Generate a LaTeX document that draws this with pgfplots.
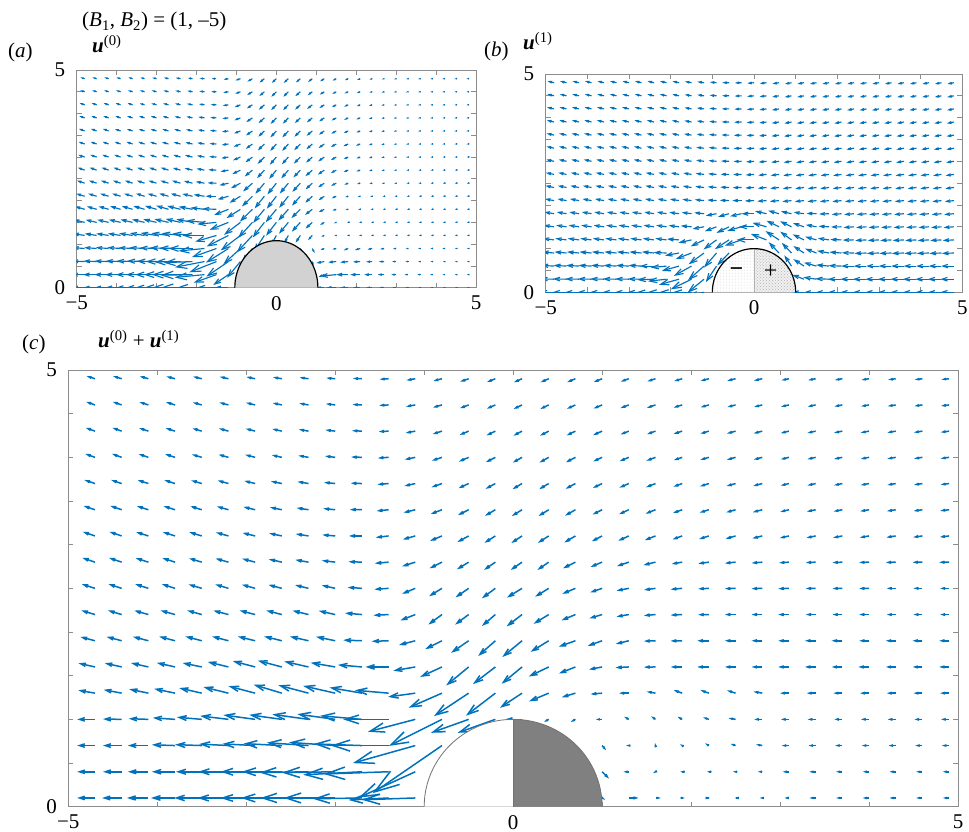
\documentclass[border=0pt]{standalone}
\usepackage{fontspec}
\setmainfont{Liberation Serif}
\usepackage{pgfplots}
\pgfplotsset{compat=1.18}
\usepackage{pgfplotstable}
\usetikzlibrary{arrows.meta,patterns}
\definecolor{mblue}{RGB}{0,114,189}
\definecolor{axgray}{RGB}{140,140,140}

% x y L(length, data units) a(direction, degrees; 180 = pointing left)
\pgfplotstableread{
x y L a
-4.7 4.9 .1 162
-4.4 4.9 .1 163
-4.1 4.9 .1 164
-3.8 4.9 .1 165
-3.5 4.9 .1 166
-3.2 4.9 .1 167
-2.9 4.9 .1 168
-2.6 4.9 .1 170
-2.3 4.9 .1 172
-2 4.9 .1 175
-1.7 4.9 .1 178
-1.4 4.9 .1 184
-1.1 4.9 .1 190
-.8 4.9 .1 195
-.5 4.9 .1 199
-.2 4.9 .1 202
.1 4.9 .1 204
.4 4.9 .1 204
.7 4.9 .1 203
1 4.9 .1 202
1.3 4.9 .095 200
1.6 4.9 .095 198
1.9 4.9 .095 197
2.2 4.9 .095 195
2.5 4.9 .095 194
2.8 4.9 .095 193
3.1 4.9 .085 192
3.4 4.9 .085 191
3.7 4.9 .085 190
4 4.9 .085 189
4.3 4.9 .085 188
4.6 4.9 .085 187
4.9 4.9 .085 186
-4.7 4.6 .105 160
-4.4 4.6 .105 161
-4.1 4.6 .105 162
-3.8 4.6 .105 163
-3.5 4.6 .105 164
-3.2 4.6 .105 165
-2.9 4.6 .105 166
-2.6 4.6 .105 168
-2.3 4.6 .105 170
-2 4.6 .105 173
-1.7 4.6 .105 177
-1.4 4.6 .105 183
-1.1 4.6 .105 190
-.8 4.6 .105 196
-.5 4.6 .105 201
-.2 4.6 .105 204
.1 4.6 .105 206
.4 4.6 .105 206
.7 4.6 .105 205
1 4.6 .105 203
1.3 4.6 .1 201
1.6 4.6 .1 199
1.9 4.6 .1 197
2.2 4.6 .095 196
2.5 4.6 .095 195
2.8 4.6 .095 194
3.1 4.6 .09 193
3.4 4.6 .09 192
3.7 4.6 .09 191
4 4.6 .09 190
4.3 4.6 .09 189
4.6 4.6 .09 188
4.9 4.6 .09 187
-4.7 4.3 .11 160
-4.4 4.3 .11 160
-4.1 4.3 .11 161
-3.8 4.3 .11 162
-3.5 4.3 .11 163
-3.2 4.3 .11 164
-2.9 4.3 .11 165
-2.6 4.3 .11 167
-2.3 4.3 .11 170
-2 4.3 .11 173
-1.7 4.3 .11 177
-1.4 4.3 .11 183
-1.1 4.3 .11 191
-.8 4.3 .11 198
-.5 4.3 .11 203
-.2 4.3 .11 206
.1 4.3 .11 208
.4 4.3 .11 208
.7 4.3 .11 206
1 4.3 .11 204
1.3 4.3 .1 202
1.6 4.3 .1 200
1.9 4.3 .1 198
2.2 4.3 .1 197
2.5 4.3 .1 196
2.8 4.3 .1 195
3.1 4.3 .095 194
3.4 4.3 .095 193
3.7 4.3 .095 192
4 4.3 .095 191
4.3 4.3 .095 190
4.6 4.3 .095 189
4.9 4.3 .095 188
-4.7 4 .115 160
-4.4 4 .115 160
-4.1 4 .115 161
-3.8 4 .115 162
-3.5 4 .115 163
-3.2 4 .115 164
-2.9 4 .115 165
-2.6 4 .115 167
-2.3 4 .115 170
-2 4 .115 173
-1.7 4 .12 178
-1.4 4 .12 184
-1.1 4 .12 192
-.8 4 .12 199
-.5 4 .12 204
-.2 4 .12 208
.1 4 .12 210
.4 4 .12 210
.7 4 .12 208
1 4 .11 205
1.3 4 .11 203
1.6 4 .11 201
1.9 4 .1 199
2.2 4 .1 197
2.5 4 .1 196
2.8 4 .1 195
3.1 4 .095 194
3.4 4 .095 193
3.7 4 .095 192
4 4 .095 191
4.3 4 .095 190
4.6 4 .095 189
4.9 4 .095 188
-4.7 3.7 .125 161
-4.4 3.7 .125 161
-4.1 3.7 .125 162
-3.8 3.7 .125 162
-3.5 3.7 .125 163
-3.2 3.7 .125 164
-2.9 3.7 .125 166
-2.6 3.7 .125 168
-2.3 3.7 .125 170
-2 3.7 .125 174
-1.7 3.7 .125 178
-1.4 3.7 .125 185
-1.1 3.7 .125 193
-.8 3.7 .125 200
-.5 3.7 .125 205
-.2 3.7 .125 209
.1 3.7 .125 211
.4 3.7 .125 211
.7 3.7 .125 209
1 3.7 .115 206
1.3 3.7 .115 204
1.6 3.7 .115 202
1.9 3.7 .105 200
2.2 3.7 .105 198
2.5 3.7 .105 196
2.8 3.7 .105 195
3.1 3.7 .095 194
3.4 3.7 .095 193
3.7 3.7 .095 192
4 3.7 .095 191
4.3 3.7 .095 190
4.6 3.7 .095 189
4.9 3.7 .095 188
-4.7 3.4 .135 161
-4.4 3.4 .135 161
-4.1 3.4 .135 162
-3.8 3.4 .135 162
-3.5 3.4 .135 163
-3.2 3.4 .135 164
-2.9 3.4 .135 166
-2.6 3.4 .135 168
-2.3 3.4 .135 171
-2 3.4 .135 174
-1.7 3.4 .135 179
-1.4 3.4 .135 186
-1.1 3.4 .135 194
-.8 3.4 .135 201
-.5 3.4 .135 207
-.2 3.4 .135 211
.1 3.4 .135 212
.4 3.4 .135 212
.7 3.4 .135 210
1 3.4 .12 207
1.3 3.4 .12 205
1.6 3.4 .12 202
1.9 3.4 .11 200
2.2 3.4 .11 198
2.5 3.4 .11 196
2.8 3.4 .11 195
3.1 3.4 .1 194
3.4 3.4 .1 192
3.7 3.4 .1 191
4 3.4 .1 190
4.3 3.4 .1 189
4.6 3.4 .1 188
4.9 3.4 .1 187
-4.7 3.1 .145 161
-4.4 3.1 .145 161
-4.1 3.1 .145 162
-3.8 3.1 .145 162
-3.5 3.1 .145 163
-3.2 3.1 .145 164
-2.9 3.1 .145 166
-2.6 3.1 .145 168
-2.3 3.1 .145 171
-2 3.1 .145 175
-1.7 3.1 .145 180
-1.4 3.1 .145 187
-1.1 3.1 .145 196
-.8 3.1 .145 203
-.5 3.1 .145 209
-.2 3.1 .145 213
.1 3.1 .145 214
.4 3.1 .145 213
.7 3.1 .145 211
1 3.1 .13 208
1.3 3.1 .13 205
1.6 3.1 .13 202
1.9 3.1 .115 200
2.2 3.1 .115 198
2.5 3.1 .115 196
2.8 3.1 .115 194
3.1 3.1 .105 193
3.4 3.1 .105 192
3.7 3.1 .105 191
4 3.1 .105 190
4.3 3.1 .105 189
4.6 3.1 .105 188
4.9 3.1 .105 187
-4.7 2.8 .15 161
-4.4 2.8 .15 161
-4.1 2.8 .15 162
-3.8 2.8 .15 162
-3.5 2.8 .15 163
-3.2 2.8 .15 164
-2.9 2.8 .15 165
-2.6 2.8 .15 167
-2.3 2.8 .15 170
-2 2.8 .15 173
-1.7 2.8 .15 178
-1.4 2.8 .155 185
-1.1 2.8 .155 198
-.8 2.8 .155 207
-.5 2.8 .155 212
-.2 2.8 .155 215
.1 2.8 .155 215
.4 2.8 .155 215
.7 2.8 .155 207
1 2.8 .14 203
1.3 2.8 .14 199
1.6 2.8 .14 194
1.9 2.8 .12 190
2.2 2.8 .12 188
2.5 2.8 .12 186
2.8 2.8 .12 185
3.1 2.8 .11 184
3.4 2.8 .11 183
3.7 2.8 .11 183
4 2.8 .11 182
4.3 2.8 .11 182
4.6 2.8 .11 181
4.9 2.8 .11 181
-4.7 2.5 .155 162
-4.4 2.5 .155 162
-4.1 2.5 .155 162
-3.8 2.5 .155 162
-3.5 2.5 .155 163
-3.2 2.5 .155 163
-2.9 2.5 .155 164
-2.6 2.5 .155 165
-2.3 2.5 .155 166
-2 2.5 .155 167
-1.7 2.5 .16 176
-1.4 2.5 .16 184
-1.1 2.5 .16 203
-.8 2.5 .17 212
-.5 2.5 .18 215
-.2 2.5 .19 217
.1 2.5 .2 212
.4 2.5 .18 212
.7 2.5 .16 203
1 2.5 .14 199
1.3 2.5 .14 191
1.6 2.5 .13 188
1.9 2.5 .13 185
2.2 2.5 .12 183
2.5 2.5 .12 182
2.8 2.5 .12 182
3.1 2.5 .12 182
3.4 2.5 .11 181
3.7 2.5 .11 181
4 2.5 .11 181
4.3 2.5 .1 180
4.6 2.5 .1 180
4.9 2.5 .1 180
-4.7 2.2 .16 163
-4.4 2.2 .16 163
-4.1 2.2 .165 164
-3.8 2.2 .17 164
-3.5 2.2 .17 164
-3.2 2.2 .175 165
-2.9 2.2 .18 165
-2.6 2.2 .18 165
-2.3 2.2 .185 166
-2 2.2 .19 167
-1.7 2.2 .19 175
-1.4 2.2 .17 183
-1.1 2.2 .18 202
-.8 2.2 .19 217
-.5 2.2 .19 217
-.2 2.2 .2 221
.1 2.2 .22 218
.4 2.2 .2 212
.7 2.2 .17 203
1 2.2 .15 197
1.3 2.2 .14 190
1.6 2.2 .13 185
1.9 2.2 .13 183
2.2 2.2 .12 181
2.5 2.2 .12 180
2.8 2.2 .12 180
3.1 2.2 .12 180
3.4 2.2 .11 180
3.7 2.2 .11 180
4 2.2 .11 180
4.3 2.2 .1 180
4.6 2.2 .1 180
4.9 2.2 .1 180
-4.7 1.9 .17 165
-4.4 1.9 .175 165
-4.1 1.9 .18 165
-3.8 1.9 .185 165
-3.5 1.9 .19 165
-3.2 1.9 .19 165
-2.9 1.9 .2 166
-2.6 1.9 .205 166
-2.3 1.9 .215 167
-2 1.9 .22 168
-1.7 1.9 .21 178
-1.4 1.9 .19 182
-1.1 1.9 .19 195
-.8 1.9 .21 207
-.5 1.9 .24 215
-.2 1.9 .26 222
.1 1.9 .29 220
.4 1.9 .24 212
.7 1.9 .2 200
1 1.9 .17 200
1.3 1.9 .15 194
1.6 1.9 .13 182
1.9 1.9 .13 181
2.2 1.9 .13 180
2.5 1.9 .12 180
2.8 1.9 .12 180
3.1 1.9 .12 180
3.4 1.9 .12 180
3.7 1.9 .12 180
4 1.9 .11 180
4.3 1.9 .11 180
4.6 1.9 .11 180
4.9 1.9 .11 180
-4.7 1.6 .19 167
-4.4 1.6 .195 167
-4.1 1.6 .2 167
-3.8 1.6 .21 167
-3.5 1.6 .22 168
-3.2 1.6 .24 166
-2.9 1.6 .26 165
-2.6 1.6 .28 165
-2.3 1.6 .28 167
-2 1.6 .28 170
-1.7 1.6 .27 175
-1.4 1.6 .26 180
-1.1 1.6 .25 190
-.8 1.6 .27 205
-.5 1.6 .33 220
-.2 1.6 .32 218
.1 1.6 .3 220
.4 1.6 .25 206
.7 1.6 .2 202
1 1.6 .15 191
1.3 1.6 .15 183
1.6 1.6 .13 181
1.9 1.6 .13 180
2.2 1.6 .13 180
2.5 1.6 .12 180
2.8 1.6 .12 180
3.1 1.6 .12 180
3.4 1.6 .12 180
3.7 1.6 .12 180
4 1.6 .12 180
4.3 1.6 .11 180
4.6 1.6 .11 180
4.9 1.6 .11 180
-4.7 1.3 .19 170
-4.4 1.3 .205 169
-4.1 1.3 .22 168
-3.8 1.3 .24 168
-3.5 1.3 .26 167
-3.2 1.3 .29 166
-2.9 1.3 .31 165
-2.6 1.3 .33 163
-2.3 1.3 .35 165
-2 1.3 .37 167
-1.7 1.3 .37 170
-1.4 1.3 .38 175
-1.1 1.3 .31 188
-.8 1.3 .41 204
-.5 1.3 .47 214
-.2 1.3 .42 218
.1 1.3 .3 214
.4 1.3 .24 203
.7 1.3 .16 197
1 1.3 .13 185
1.3 1.3 .11 180
1.6 1.3 .1 170
1.9 1.3 .1 160
2.2 1.3 .1 160
2.5 1.3 .1 162
2.8 1.3 .1 170
3.1 1.3 .1 180
3.4 1.3 .1 180
3.7 1.3 .1 180
4 1.3 .1 180
4.3 1.3 .1 180
4.6 1.3 .1 180
4.9 1.3 .1 180
-4.7 1 .2 180
-4.4 1 .21 179
-4.1 1 .22 178
-3.8 1 .25 176
-3.5 1 .28 175
-3.2 1 .32 173
-2.9 1 .36 172
-2.6 1 .37 172
-2.3 1 .41 172
-2 1 .43 172
-1.7 1 .47 175
-1.4 1 .51 180
-1.1 1 .55 195
-.8 1 .67 207
-.5 1 .45 200
-.2 1 .45 200
.1 1 .19 180
.4 1 .06 210
.7 1 .06 210
1 1 .07 180
1.3 1 .06 150
1.6 1 .06 145
1.9 1 .06 150
2.2 1 .07 160
2.5 1 .08 170
2.8 1 .09 180
3.1 1 .09 180
3.4 1 .09 180
3.7 1 .09 180
4 1 .09 180
4.3 1 .09 180
4.6 1 .09 180
4.9 1 .09 180
-4.7 .7 .2 180
-4.4 .7 .21 180
-4.1 .7 .23 180
-3.8 .7 .26 178
-3.5 .7 .3 178
-3.2 .7 .33 177
-2.9 .7 .37 177
-2.6 .7 .43 177
-2.3 .7 .47 176
-2 .7 .52 176
-1.7 .7 .54 178
-1.4 .7 .65 180
-1.1 .7 .73 196
-.8 .7 .95 215
1 .7 .07 310
1.3 .7 .03 180
1.6 .7 .03 100
1.9 .7 .03 150
2.2 .7 .05 150
2.5 .7 .06 160
2.8 .7 .07 170
3.1 .7 .08 180
3.4 .7 .08 180
3.7 .7 .08 180
4 .7 .08 180
4.3 .7 .08 180
4.6 .7 .08 180
4.9 .7 .08 180
-4.7 .4 .2 180
-4.4 .4 .21 180
-4.1 .4 .23 180
-3.8 .4 .26 180
-3.5 .4 .29 180
-3.2 .4 .34 180
-2.9 .4 .39 180
-2.6 .4 .45 180
-2.3 .4 .55 181
-2 .4 .6 181
-1.7 .4 .66 183
-1.4 .4 .73 182
-1.1 .4 .7 205
1 .4 .11 315
1.3 .4 .06 180
1.6 .4 .03 210
1.9 .4 .02 180
2.2 .4 .02 180
2.5 .4 .03 180
2.8 .4 .05 180
3.1 .4 .07 180
3.4 .4 .07 180
3.7 .4 .07 180
4 .4 .07 180
4.3 .4 .07 180
4.6 .4 .07 180
4.9 .4 .07 180
-4.7 .1 .2 180
-4.4 .1 .22 180
-4.1 .1 .24 180
-3.8 .1 .27 180
-3.5 .1 .31 180
-3.2 .1 .35 180
-2.9 .1 .39 180
-2.6 .1 .46 180
-2.3 .1 .54 180
-2 .1 .58 180
-1.7 .1 .55 181
-1.4 .1 .45 183
-1.1 .1 .6 182
1 .1 .04 330
1.3 .1 .11 0
1.6 .1 .06 0
1.9 .1 .03 0
2.2 .1 .01 0
2.5 .1 .01 180
2.8 .1 .03 180
3.1 .1 .05 180
3.4 .1 .07 180
3.7 .1 .07 180
4 .1 .07 180
4.3 .1 .07 180
4.6 .1 .07 180
4.9 .1 .07 180
}\dataC

\pgfplotstableread{
x y L a
-4.8 4.8 .11 165
-4.5 4.8 .11 165
-4.2 4.8 .11 165
-3.9 4.8 .11 166
-3.6 4.8 .11 166
-3.3 4.8 .11 167
-3 4.8 .11 168
-2.7 4.8 .12 169
-2.4 4.8 .12 170
-2.1 4.8 .12 172
-1.8 4.8 .12 175
-1.5 4.8 .12 180
-1.2 4.8 .12 188
-.9 4.8 .13 198
-.6 4.8 .14 208
-.3 4.8 .15 216
0 4.8 .15 220
.3 4.8 .15 220
.6 4.8 .14 218
.9 4.8 .13 215
1.2 4.8 .12 210
1.5 4.8 .1 206
1.8 4.8 .09 202
2.1 4.8 .08 199
2.4 4.8 .07 196
2.7 4.8 .06 194
3 4.8 .055 192
3.3 4.8 .05 191
3.6 4.8 .05 190
3.9 4.8 .045 190
4.2 4.8 .045 190
4.5 4.8 .04 190
4.8 4.8 .04 190
-4.8 4.5 .12 164
-4.5 4.5 .12 164
-4.2 4.5 .12 164
-3.9 4.5 .12 165
-3.6 4.5 .12 165
-3.3 4.5 .12 166
-3 4.5 .125 167
-2.7 4.5 .13 168
-2.4 4.5 .13 169
-2.1 4.5 .13 171
-1.8 4.5 .13 174
-1.5 4.5 .13 179
-1.2 4.5 .13 188
-.9 4.5 .14 199
-.6 4.5 .15 210
-.3 4.5 .16 218
0 4.5 .17 222
.3 4.5 .17 222
.6 4.5 .16 219
.9 4.5 .14 215
1.2 4.5 .13 210
1.5 4.5 .11 206
1.8 4.5 .1 202
2.1 4.5 .09 199
2.4 4.5 .075 196
2.7 4.5 .065 194
3 4.5 .06 192
3.3 4.5 .055 191
3.6 4.5 .05 190
3.9 4.5 .045 190
4.2 4.5 .045 190
4.5 4.5 .04 190
4.8 4.5 .04 190
-4.8 4.2 .13 163
-4.5 4.2 .13 163
-4.2 4.2 .13 163
-3.9 4.2 .13 164
-3.6 4.2 .13 164
-3.3 4.2 .13 165
-3 4.2 .135 166
-2.7 4.2 .14 167
-2.4 4.2 .14 168
-2.1 4.2 .14 170
-1.8 4.2 .14 173
-1.5 4.2 .14 178
-1.2 4.2 .14 188
-.9 4.2 .15 200
-.6 4.2 .16 211
-.3 4.2 .18 219
0 4.2 .18 223
.3 4.2 .18 223
.6 4.2 .17 220
.9 4.2 .16 216
1.2 4.2 .14 211
1.5 4.2 .12 206
1.8 4.2 .11 202
2.1 4.2 .09 199
2.4 4.2 .08 196
2.7 4.2 .07 194
3 4.2 .06 192
3.3 4.2 .055 191
3.6 4.2 .05 190
3.9 4.2 .045 190
4.2 4.2 .045 190
4.5 4.2 .04 190
4.8 4.2 .04 190
-4.8 3.9 .14 163
-4.5 3.9 .14 163
-4.2 3.9 .14 163
-3.9 3.9 .14 163
-3.6 3.9 .14 164
-3.3 3.9 .14 164
-3 3.9 .145 165
-2.7 3.9 .15 166
-2.4 3.9 .15 167
-2.1 3.9 .155 169
-1.8 3.9 .155 172
-1.5 3.9 .15 177
-1.2 3.9 .15 187
-.9 3.9 .16 200
-.6 3.9 .18 212
-.3 3.9 .19 220
0 3.9 .2 224
.3 3.9 .19 224
.6 3.9 .18 221
.9 3.9 .17 217
1.2 3.9 .15 212
1.5 3.9 .13 207
1.8 3.9 .11 203
2.1 3.9 .1 199
2.4 3.9 .085 196
2.7 3.9 .07 194
3 3.9 .06 192
3.3 3.9 .055 191
3.6 3.9 .05 190
3.9 3.9 .045 190
4.2 3.9 .04 190
4.5 3.9 .04 190
4.8 3.9 .04 190
-4.8 3.6 .15 162
-4.5 3.6 .15 162
-4.2 3.6 .15 162
-3.9 3.6 .15 163
-3.6 3.6 .15 163
-3.3 3.6 .15 164
-3 3.6 .155 164
-2.7 3.6 .16 165
-2.4 3.6 .16 166
-2.1 3.6 .165 168
-1.8 3.6 .165 171
-1.5 3.6 .16 176
-1.2 3.6 .16 187
-.9 3.6 .17 200
-.6 3.6 .19 213
-.3 3.6 .2 221
0 3.6 .21 225
.3 3.6 .21 225
.6 3.6 .2 222
.9 3.6 .18 218
1.2 3.6 .16 213
1.5 3.6 .14 207
1.8 3.6 .12 203
2.1 3.6 .1 199
2.4 3.6 .085 196
2.7 3.6 .07 194
3 3.6 .06 192
3.3 3.6 .05 191
3.6 3.6 .05 190
3.9 3.6 .045 190
4.2 3.6 .04 190
4.5 3.6 .04 190
4.8 3.6 .04 190
-4.8 3.3 .16 162
-4.5 3.3 .16 162
-4.2 3.3 .16 162
-3.9 3.3 .16 162
-3.6 3.3 .16 163
-3.3 3.3 .165 163
-3 3.3 .17 164
-2.7 3.3 .17 165
-2.4 3.3 .175 166
-2.1 3.3 .18 168
-1.8 3.3 .18 171
-1.5 3.3 .17 176
-1.2 3.3 .17 187
-.9 3.3 .18 201
-.6 3.3 .2 214
-.3 3.3 .22 222
0 3.3 .22 226
.3 3.3 .22 226
.6 3.3 .21 223
.9 3.3 .19 219
1.2 3.3 .17 213
1.5 3.3 .15 207
1.8 3.3 .13 203
2.1 3.3 .11 199
2.4 3.3 .09 196
2.7 3.3 .07 194
3 3.3 .06 192
3.3 3.3 .05 191
3.6 3.3 .045 190
3.9 3.3 .04 190
4.2 3.3 .04 190
4.5 3.3 .035 190
4.8 3.3 .035 190
-4.8 3 .17 162
-4.5 3 .17 162
-4.2 3 .17 162
-3.9 3 .17 162
-3.6 3 .17 162
-3.3 3 .175 163
-3 3 .18 163
-2.7 3 .18 164
-2.4 3 .185 165
-2.1 3 .19 167
-1.8 3 .19 170
-1.5 3 .18 176
-1.2 3 .18 188
-.9 3 .2 202
-.6 3 .21 215
-.3 3 .23 223
0 3 .24 227
.3 3 .23 226
.6 3 .22 223
.9 3 .2 219
1.2 3 .18 213
1.5 3 .15 207
1.8 3 .12 202
2.1 3 .1 198
2.4 3 .085 195
2.7 3 .07 193
3 3 .06 191
3.3 3 .05 190
3.6 3 .045 190
3.9 3 .04 190
4.2 3 .035 190
4.5 3 .035 190
4.8 3 .03 190
-4.8 2.7 .18 162
-4.5 2.7 .185 162
-4.2 2.7 .185 162
-3.9 2.7 .185 162
-3.6 2.7 .185 162
-3.3 2.7 .19 163
-3 2.7 .19 163
-2.7 2.7 .2 164
-2.4 2.7 .2 165
-2.1 2.7 .2 167
-1.8 2.7 .2 170
-1.5 2.7 .2 177
-1.2 2.7 .2 190
-.9 2.7 .22 204
-.6 2.7 .24 217
-.3 2.7 .26 225
0 2.7 .27 228
.3 2.7 .26 227
.6 2.7 .24 224
.9 2.7 .22 219
1.2 2.7 .19 213
1.5 2.7 .15 206
1.8 2.7 .12 200
2.1 2.7 .1 196
2.4 2.7 .08 193
2.7 2.7 .065 191
3 2.7 .055 190
3.3 2.7 .045 190
3.6 2.7 .04 190
3.9 2.7 .035 190
4.2 2.7 .035 190
4.5 2.7 .03 190
4.8 2.7 .03 190
-4.8 2.4 .2 163
-4.5 2.4 .2 163
-4.2 2.4 .2 163
-3.9 2.4 .2 163
-3.6 2.4 .2 163
-3.3 2.4 .2 163
-3 2.4 .21 164
-2.7 2.4 .21 164
-2.4 2.4 .22 165
-2.1 2.4 .22 167
-1.8 2.4 .22 171
-1.5 2.4 .22 178
-1.2 2.4 .23 192
-.9 2.4 .26 206
-.6 2.4 .3 219
-.3 2.4 .33 227
0 2.4 .34 229
.3 2.4 .32 228
.6 2.4 .28 225
.9 2.4 .22 220
1.2 2.4 .18 212
1.5 2.4 .14 205
1.8 2.4 .1 198
2.1 2.4 .08 193
2.4 2.4 .07 190
2.7 2.4 .06 190
3 2.4 .05 190
3.3 2.4 .04 190
3.6 2.4 .04 190
3.9 2.4 .035 190
4.2 2.4 .03 190
4.5 2.4 .03 190
4.8 2.4 .03 190
-4.8 2.1 .22 164
-4.5 2.1 .22 164
-4.2 2.1 .22 164
-3.9 2.1 .22 164
-3.6 2.1 .22 164
-3.3 2.1 .225 164
-3 2.1 .23 165
-2.7 2.1 .24 165
-2.4 2.1 .25 166
-2.1 2.1 .26 168
-1.8 2.1 .27 172
-1.5 2.1 .27 180
-1.2 2.1 .28 195
-.9 2.1 .31 209
-.6 2.1 .35 222
-.3 2.1 .37 229
0 2.1 .37 230
.3 2.1 .35 229
.6 2.1 .3 226
.9 2.1 .23 220
1.2 2.1 .17 212
1.5 2.1 .12 203
1.8 2.1 .08 195
2.1 2.1 .06 190
2.4 2.1 .05 190
2.7 2.1 .04 190
3 2.1 .04 190
3.3 2.1 .035 190
3.6 2.1 .03 190
3.9 2.1 .03 190
4.2 2.1 .03 190
4.5 2.1 .03 190
4.8 2.1 .03 190
-4.8 1.8 .25 165
-4.5 1.8 .25 165
-4.2 1.8 .26 165
-3.9 1.8 .27 165
-3.6 1.8 .28 165
-3.3 1.8 .29 165
-3 1.8 .3 165
-2.7 1.8 .32 165
-2.4 1.8 .34 167
-2.1 1.8 .35 170
-1.8 1.8 .35 174
-1.5 1.8 .35 178
-1.2 1.8 .38 200
-.9 1.8 .4 210
-.6 1.8 .42 222
-.3 1.8 .42 228
0 1.8 .4 228
.3 1.8 .36 226
.6 1.8 .3 222
.9 1.8 .22 215
1.2 1.8 .15 205
1.5 1.8 .1 195
1.8 1.8 .07 190
2.1 1.8 .05 185
2.4 1.8 .04 185
2.7 1.8 .035 185
3 1.8 .03 185
3.3 1.8 .03 185
3.6 1.8 .03 185
3.9 1.8 .03 185
4.2 1.8 .03 185
4.5 1.8 .03 185
4.8 1.8 .03 185
-4.8 1.5 .28 168
-4.5 1.5 .28 168
-4.2 1.5 .29 168
-3.9 1.5 .3 168
-3.6 1.5 .31 168
-3.3 1.5 .32 168
-3 1.5 .34 168
-2.7 1.5 .36 168
-2.4 1.5 .38 168
-2.1 1.5 .41 170
-1.8 1.5 .45 175
-1.5 1.5 .48 185
-1.2 1.5 .5 200
-.9 1.5 .5 215
-.6 1.5 .5 225
-.3 1.5 .45 230
0 1.5 .4 230
.3 1.5 .35 228
.6 1.5 .3 225
.9 1.5 .22 220
1.2 1.5 .12 210
1.5 1.5 .06 200
1.8 1.5 .03 190
2.1 1.5 .03 185
2.4 1.5 .03 185
2.7 1.5 .03 185
3 1.5 .03 185
3.3 1.5 .03 185
3.6 1.5 .03 185
3.9 1.5 .03 185
4.2 1.5 .03 185
4.5 1.5 .03 185
4.8 1.5 .03 185
-4.8 1.2 .3 172
-4.5 1.2 .3 172
-4.2 1.2 .31 172
-3.9 1.2 .32 172
-3.6 1.2 .34 172
-3.3 1.2 .37 172
-3 1.2 .4 172
-2.7 1.2 .43 173
-2.4 1.2 .47 174
-2.1 1.2 .5 175
-1.8 1.2 .55 180
-1.5 1.2 .55 195
-1.2 1.2 .6 205
-.9 1.2 .6 215
-.6 1.2 .55 225
-.3 1.2 .45 235
0 1.2 .25 240
.3 1.2 .2 240
.6 1.2 .2 235
.9 1.2 .15 225
1.2 1.2 .08 200
1.5 1.2 .05 180
1.8 1.2 .03 185
2.1 1.2 .03 185
2.4 1.2 .03 185
2.7 1.2 .03 185
3 1.2 .03 185
3.3 1.2 .03 185
3.6 1.2 .03 185
3.9 1.2 .03 185
4.2 1.2 .03 185
4.5 1.2 .03 185
4.8 1.2 .03 185
-4.8 .9 .3 176
-4.5 .9 .31 176
-4.2 .9 .32 176
-3.9 .9 .33 176
-3.6 .9 .35 177
-3.3 .9 .38 177
-3 .9 .42 178
-2.7 .9 .47 178
-2.4 .9 .53 179
-2.1 .9 .6 180
-1.8 .9 .65 185
-1.5 .9 .65 198
-1.2 .9 .65 210
-.9 .9 .55 220
-.6 .9 .4 230
.6 .9 .1 300
.9 .9 .12 300
1.2 .9 .1 200
1.5 .9 .1 190
1.8 .9 .12 200
2.1 .9 .14 195
2.4 .9 .12 190
2.7 .9 .1 188
3 .9 .08 185
3.3 .9 .06 185
3.6 .9 .05 182
3.9 .9 .04 182
4.2 .9 .04 180
4.5 .9 .03 180
4.8 .9 .03 180
-4.8 .6 .32 178
-4.5 .6 .33 178
-4.2 .6 .35 178
-3.9 .6 .37 178
-3.6 .6 .4 178
-3.3 .6 .44 178
-3 .6 .5 179
-2.7 .6 .57 180
-2.4 .6 .65 181
-2.1 .6 .72 182
-1.8 .6 .75 190
-1.5 .6 .72 200
-1.2 .6 .65 212
-.9 .6 .5 228
.9 .6 .1 290
1.2 .6 .2 190
1.5 .6 .2 185
1.8 .6 .2 185
2.1 .6 .18 183
2.4 .6 .15 182
2.7 .6 .13 181
3 .6 .1 180
3.3 .6 .07 180
3.6 .6 .05 180
3.9 .6 .04 180
4.2 .6 .03 180
4.5 .6 .03 180
4.8 .6 .03 180
-4.8 .3 .33 180
-4.5 .3 .34 180
-4.2 .3 .36 180
-3.9 .3 .39 180
-3.6 .3 .42 180
-3.3 .3 .47 180
-3 .3 .54 180
-2.7 .3 .62 180
-2.4 .3 .72 180
-2.1 .3 .8 181
-1.8 .3 .75 185
-1.5 .3 .6 198
-1.2 .3 .45 212
1.2 .3 .15 200
1.5 .3 .4 185
1.8 .3 .3 180
2.1 .3 .25 180
2.4 .3 .2 180
2.7 .3 .16 180
3 .3 .12 180
3.3 .3 .09 180
3.6 .3 .07 180
3.9 .3 .05 180
4.2 .3 .04 180
4.5 .3 .03 180
4.8 .3 .03 180
-4.8 0 .33 180
-4.5 0 .34 180
-4.2 0 .36 180
-3.9 0 .39 180
-3.6 0 .42 180
-3.3 0 .47 180
-3 0 .54 180
-2.7 0 .62 180
-2.4 0 .72 180
-2.1 0 .8 180
-1.8 0 .7 180
-1.5 0 .5 180
-1.2 0 .35 180
1.2 0 .2 180
1.5 0 .25 180
1.8 0 .2 180
2.1 0 .18 180
2.4 0 .15 180
2.7 0 .12 180
3 0 .09 180
3.3 0 .07 180
3.6 0 .05 180
3.9 0 .04 180
4.2 0 .03 180
4.5 0 .03 180
4.8 0 .03 180
}\dataA

\pgfplotstableread{
x y L a
-4.8 4.8 .16 167
-4.5 4.8 .16 167
-4.2 4.8 .16 167
-3.9 4.8 .16 167
-3.6 4.8 .16 167
-3.3 4.8 .16 167
-3 4.8 .16 167
-2.7 4.8 .16 167
-2.4 4.8 .16 167
-2.1 4.8 .16 167
-1.8 4.8 .16 168
-1.5 4.8 .16 170
-1.2 4.8 .16 172
-.9 4.8 .16 175
-.6 4.8 .16 179
-.3 4.8 .16 182
0 4.8 .16 185
.3 4.8 .16 187
.6 4.8 .16 189
.9 4.8 .16 190
1.2 4.8 .16 190
1.5 4.8 .16 190
1.8 4.8 .16 190
2.1 4.8 .16 190
2.4 4.8 .16 190
2.7 4.8 .16 190
3 4.8 .16 190
3.3 4.8 .16 190
3.6 4.8 .16 190
3.9 4.8 .16 190
4.2 4.8 .16 190
4.5 4.8 .16 190
4.8 4.8 .16 190
-4.8 4.5 .165 167
-4.5 4.5 .165 167
-4.2 4.5 .165 167
-3.9 4.5 .165 167
-3.6 4.5 .165 167
-3.3 4.5 .165 167
-3 4.5 .165 167
-2.7 4.5 .165 167
-2.4 4.5 .165 167
-2.1 4.5 .165 167
-1.8 4.5 .165 168
-1.5 4.5 .165 170
-1.2 4.5 .165 172
-.9 4.5 .165 175
-.6 4.5 .165 179
-.3 4.5 .165 182
0 4.5 .165 185
.3 4.5 .165 187
.6 4.5 .165 189
.9 4.5 .165 190
1.2 4.5 .165 190
1.5 4.5 .165 190
1.8 4.5 .165 190
2.1 4.5 .165 190
2.4 4.5 .165 190
2.7 4.5 .165 190
3 4.5 .165 190
3.3 4.5 .165 190
3.6 4.5 .165 190
3.9 4.5 .165 190
4.2 4.5 .165 190
4.5 4.5 .165 190
4.8 4.5 .165 190
-4.8 4.2 .17 167
-4.5 4.2 .17 167
-4.2 4.2 .17 167
-3.9 4.2 .17 167
-3.6 4.2 .17 167
-3.3 4.2 .17 167
-3 4.2 .17 167
-2.7 4.2 .17 167
-2.4 4.2 .17 167
-2.1 4.2 .17 167
-1.8 4.2 .17 168
-1.5 4.2 .17 170
-1.2 4.2 .17 172
-.9 4.2 .17 175
-.6 4.2 .17 179
-.3 4.2 .17 182
0 4.2 .17 185
.3 4.2 .17 187
.6 4.2 .17 189
.9 4.2 .17 190
1.2 4.2 .17 190
1.5 4.2 .17 190
1.8 4.2 .17 190
2.1 4.2 .17 190
2.4 4.2 .17 190
2.7 4.2 .17 190
3 4.2 .17 190
3.3 4.2 .17 190
3.6 4.2 .17 190
3.9 4.2 .17 190
4.2 4.2 .17 190
4.5 4.2 .17 190
4.8 4.2 .17 190
-4.8 3.9 .175 167
-4.5 3.9 .175 167
-4.2 3.9 .175 167
-3.9 3.9 .175 167
-3.6 3.9 .175 167
-3.3 3.9 .175 167
-3 3.9 .175 167
-2.7 3.9 .175 167
-2.4 3.9 .175 167
-2.1 3.9 .175 167
-1.8 3.9 .175 168
-1.5 3.9 .175 170
-1.2 3.9 .175 172
-.9 3.9 .175 175
-.6 3.9 .175 179
-.3 3.9 .175 182
0 3.9 .175 185
.3 3.9 .175 187
.6 3.9 .175 189
.9 3.9 .175 190
1.2 3.9 .175 190
1.5 3.9 .175 190
1.8 3.9 .175 190
2.1 3.9 .175 190
2.4 3.9 .175 190
2.7 3.9 .175 190
3 3.9 .175 190
3.3 3.9 .175 190
3.6 3.9 .175 190
3.9 3.9 .175 190
4.2 3.9 .175 190
4.5 3.9 .175 190
4.8 3.9 .175 190
-4.8 3.6 .18 168
-4.5 3.6 .18 168
-4.2 3.6 .18 168
-3.9 3.6 .18 168
-3.6 3.6 .18 168
-3.3 3.6 .18 168
-3 3.6 .18 168
-2.7 3.6 .18 168
-2.4 3.6 .18 168
-2.1 3.6 .18 168
-1.8 3.6 .18 169
-1.5 3.6 .18 171
-1.2 3.6 .18 173
-.9 3.6 .18 175
-.6 3.6 .18 179
-.3 3.6 .18 182
0 3.6 .18 184
.3 3.6 .18 186
.6 3.6 .18 188
.9 3.6 .18 189
1.2 3.6 .18 189
1.5 3.6 .18 189
1.8 3.6 .18 189
2.1 3.6 .18 189
2.4 3.6 .18 189
2.7 3.6 .18 189
3 3.6 .18 189
3.3 3.6 .18 189
3.6 3.6 .18 189
3.9 3.6 .18 189
4.2 3.6 .18 189
4.5 3.6 .18 189
4.8 3.6 .18 189
-4.8 3.3 .185 168
-4.5 3.3 .185 168
-4.2 3.3 .185 168
-3.9 3.3 .185 168
-3.6 3.3 .185 168
-3.3 3.3 .185 168
-3 3.3 .185 168
-2.7 3.3 .185 168
-2.4 3.3 .185 168
-2.1 3.3 .185 168
-1.8 3.3 .185 169
-1.5 3.3 .185 171
-1.2 3.3 .185 173
-.9 3.3 .185 175
-.6 3.3 .185 179
-.3 3.3 .185 182
0 3.3 .185 184
.3 3.3 .185 186
.6 3.3 .185 188
.9 3.3 .185 189
1.2 3.3 .185 189
1.5 3.3 .185 189
1.8 3.3 .185 189
2.1 3.3 .185 189
2.4 3.3 .185 189
2.7 3.3 .185 189
3 3.3 .185 189
3.3 3.3 .185 189
3.6 3.3 .185 189
3.9 3.3 .185 189
4.2 3.3 .185 189
4.5 3.3 .185 189
4.8 3.3 .185 189
-4.8 3 .19 168
-4.5 3 .19 168
-4.2 3 .19 168
-3.9 3 .19 168
-3.6 3 .19 168
-3.3 3 .19 168
-3 3 .19 168
-2.7 3 .19 168
-2.4 3 .19 168
-2.1 3 .19 168
-1.8 3 .19 169
-1.5 3 .19 170
-1.2 3 .19 172
-.9 3 .19 175
-.6 3 .19 178
-.3 3 .19 181
0 3 .19 184
.3 3 .19 186
.6 3 .19 187
.9 3 .19 188
1.2 3 .19 188
1.5 3 .19 188
1.8 3 .19 188
2.1 3 .19 188
2.4 3 .19 188
2.7 3 .19 188
3 3 .19 188
3.3 3 .19 188
3.6 3 .19 188
3.9 3 .19 188
4.2 3 .19 188
4.5 3 .19 188
4.8 3 .19 188
-4.8 2.7 .2 169
-4.5 2.7 .2 169
-4.2 2.7 .2 169
-3.9 2.7 .2 169
-3.6 2.7 .2 169
-3.3 2.7 .2 169
-3 2.7 .2 169
-2.7 2.7 .2 169
-2.4 2.7 .2 169
-2.1 2.7 .2 169
-1.8 2.7 .2 170
-1.5 2.7 .2 171
-1.2 2.7 .2 173
-.9 2.7 .2 176
-.6 2.7 .2 179
-.3 2.7 .2 181
0 2.7 .2 184
.3 2.7 .2 186
.6 2.7 .2 187
.9 2.7 .2 188
1.2 2.7 .2 188
1.5 2.7 .2 188
1.8 2.7 .2 188
2.1 2.7 .2 188
2.4 2.7 .2 188
2.7 2.7 .2 188
3 2.7 .2 188
3.3 2.7 .2 188
3.6 2.7 .2 188
3.9 2.7 .2 188
4.2 2.7 .2 188
4.5 2.7 .2 188
4.8 2.7 .2 188
-4.8 2.4 .21 169
-4.5 2.4 .21 169
-4.2 2.4 .21 169
-3.9 2.4 .21 169
-3.6 2.4 .21 169
-3.3 2.4 .21 169
-3 2.4 .21 169
-2.7 2.4 .21 169
-2.4 2.4 .21 169
-2.1 2.4 .21 169
-1.8 2.4 .21 170
-1.5 2.4 .21 171
-1.2 2.4 .21 173
-.9 2.4 .21 175
-.6 2.4 .21 178
-.3 2.4 .21 181
0 2.4 .21 183
.3 2.4 .21 185
.6 2.4 .21 186
.9 2.4 .21 187
1.2 2.4 .21 187
1.5 2.4 .21 187
1.8 2.4 .21 187
2.1 2.4 .21 187
2.4 2.4 .21 187
2.7 2.4 .21 187
3 2.4 .21 187
3.3 2.4 .21 187
3.6 2.4 .21 187
3.9 2.4 .21 187
4.2 2.4 .21 187
4.5 2.4 .21 187
4.8 2.4 .21 187
-4.8 2.1 .22 170
-4.5 2.1 .22 170
-4.2 2.1 .22 170
-3.9 2.1 .22 170
-3.6 2.1 .22 170
-3.3 2.1 .22 170
-3 2.1 .22 170
-2.7 2.1 .22 170
-2.4 2.1 .22 170
-2.1 2.1 .22 170
-1.8 2.1 .22 171
-1.5 2.1 .22 172
-1.2 2.1 .22 174
-.9 2.1 .22 176
-.6 2.1 .22 178
-.3 2.1 .22 180
0 2.1 .22 182
.3 2.1 .22 184
.6 2.1 .22 185
.9 2.1 .22 186
1.2 2.1 .22 186
1.5 2.1 .22 186
1.8 2.1 .22 186
2.1 2.1 .22 186
2.4 2.1 .22 186
2.7 2.1 .22 186
3 2.1 .22 186
3.3 2.1 .22 186
3.6 2.1 .22 186
3.9 2.1 .22 186
4.2 2.1 .22 186
4.5 2.1 .22 186
4.8 2.1 .22 186
-4.8 1.8 .235 171
-4.5 1.8 .235 171
-4.2 1.8 .235 171
-3.9 1.8 .235 171
-3.6 1.8 .235 171
-3.3 1.8 .235 171
-3 1.8 .235 171
-2.7 1.8 .235 171
-2.4 1.8 .235 171
-2.1 1.8 .235 171
-1.8 1.8 .235 172
-1.5 1.8 .235 173
-1.2 1.8 .235 174
-.9 1.8 .26 190
-.6 1.8 .27 195
-.3 1.8 .28 192
0 1.8 .3 180
.3 1.8 .28 168
.6 1.8 .27 165
.9 1.8 .26 168
1.2 1.8 .25 172
1.5 1.8 .24 178
1.8 1.8 .235 182
2.1 1.8 .235 185
2.4 1.8 .235 185
2.7 1.8 .235 185
3 1.8 .235 185
3.3 1.8 .235 185
3.6 1.8 .235 185
3.9 1.8 .235 185
4.2 1.8 .235 185
4.5 1.8 .235 185
4.8 1.8 .235 185
-4.8 1.5 .25 172
-4.5 1.5 .25 172
-4.2 1.5 .25 172
-3.9 1.5 .25 172
-3.6 1.5 .25 172
-3.3 1.5 .25 172
-3 1.5 .25 172
-2.7 1.5 .25 172
-2.4 1.5 .25 172
-2.1 1.5 .25 172
-1.8 1.5 .25 173
-1.5 1.5 .26 175
-1.2 1.5 .28 190
-.9 1.5 .3 200
-.6 1.5 .33 205
-.3 1.5 .35 195
0 1.5 .36 180
.3 1.5 .35 165
.6 1.5 .33 155
.9 1.5 .3 155
1.2 1.5 .28 162
1.5 1.5 .26 170
1.8 1.5 .25 177
2.1 1.5 .25 181
2.4 1.5 .25 184
2.7 1.5 .25 184
3 1.5 .25 184
3.3 1.5 .25 184
3.6 1.5 .25 184
3.9 1.5 .25 184
4.2 1.5 .25 184
4.5 1.5 .25 184
4.8 1.5 .25 184
-4.8 1.2 .27 173
-4.5 1.2 .27 173
-4.2 1.2 .27 173
-3.9 1.2 .27 173
-3.6 1.2 .27 173
-3.3 1.2 .27 173
-3 1.2 .27 173
-2.7 1.2 .27 173
-2.4 1.2 .27 173
-2.1 1.2 .27 173
-1.8 1.2 .29 176
-1.5 1.2 .32 192
-1.2 1.2 .35 205
-.9 1.2 .38 215
-.6 1.2 .4 212
-.3 1.2 .42 198
0 1.2 .42 180
.3 1.2 .4 160
.6 1.2 .38 148
.9 1.2 .33 145
1.2 1.2 .3 155
1.5 1.2 .28 165
1.8 1.2 .27 172
2.1 1.2 .27 178
2.4 1.2 .27 181
2.7 1.2 .27 183
3 1.2 .27 183
3.3 1.2 .27 183
3.6 1.2 .27 183
3.9 1.2 .27 183
4.2 1.2 .27 183
4.5 1.2 .27 183
4.8 1.2 .27 183
-4.8 .9 .29 175
-4.5 .9 .29 175
-4.2 .9 .29 175
-3.9 .9 .29 175
-3.6 .9 .29 175
-3.3 .9 .29 175
-3 .9 .29 175
-2.7 .9 .29 175
-2.4 .9 .29 175
-2.1 .9 .31 178
-1.8 .9 .34 190
-1.5 .9 .4 200
-1.2 .9 .45 215
-.9 .9 .45 228
-.6 .9 .4 225
.6 .9 .35 135
.9 .9 .33 135
1.2 .9 .3 148
1.5 .9 .29 160
1.8 .9 .29 170
2.1 .9 .29 176
2.4 .9 .29 179
2.7 .9 .29 182
3 .9 .29 182
3.3 .9 .29 182
3.6 .9 .29 182
3.9 .9 .29 182
4.2 .9 .29 182
4.5 .9 .29 182
4.8 .9 .29 182
-4.8 .6 .31 177
-4.5 .6 .31 177
-4.2 .6 .31 177
-3.9 .6 .31 177
-3.6 .6 .31 177
-3.3 .6 .31 177
-3 .6 .31 177
-2.7 .6 .31 177
-2.4 .6 .34 180
-2.1 .6 .38 185
-1.8 .6 .43 195
-1.5 .6 .48 208
-1.2 .6 .5 220
-.9 .6 .45 235
.9 .6 .3 125
1.2 .6 .3 148
1.5 .6 .31 165
1.8 .6 .31 175
2.1 .6 .31 178
2.4 .6 .31 180
2.7 .6 .31 180
3 .6 .31 180
3.3 .6 .31 180
3.6 .6 .31 180
3.9 .6 .31 180
4.2 .6 .31 180
4.5 .6 .31 180
4.8 .6 .31 180
-4.8 .3 .33 179
-4.5 .3 .33 179
-4.2 .3 .33 179
-3.9 .3 .33 179
-3.6 .3 .33 179
-3.3 .3 .33 179
-3 .3 .33 179
-2.7 .3 .33 179
-2.4 .3 .4 182
-2.1 .3 .45 186
-1.8 .3 .5 195
-1.5 .3 .55 205
-1.2 .3 .5 218
1.2 .3 .3 160
1.5 .3 .32 172
1.8 .3 .33 178
2.1 .3 .33 180
2.4 .3 .33 180
2.7 .3 .33 180
3 .3 .33 180
3.3 .3 .33 180
3.6 .3 .33 180
3.9 .3 .33 180
4.2 .3 .33 180
4.5 .3 .33 180
4.8 .3 .33 180
-4.8 0 .34 180
-4.5 0 .34 180
-4.2 0 .34 180
-3.9 0 .34 180
-3.6 0 .34 180
-3.3 0 .34 180
-3 0 .34 180
-2.7 0 .34 180
-2.4 0 .42 180
-2.1 0 .46 180
-1.8 0 .48 180
-1.5 0 .45 180
-1.2 0 .35 190
1.2 0 .28 180
1.5 0 .3 180
1.8 0 .32 180
2.1 0 .33 180
2.4 0 .33 180
2.7 0 .33 180
3 0 .33 180
3.3 0 .33 180
3.6 0 .33 180
3.9 0 .33 180
4.2 0 .33 180
4.5 0 .33 180
4.8 0 .33 180
}\dataB

\pgfplotsset{
  panel/.style={
    scale only axis, anchor=south west,
    xmin=-5, xmax=5, ymin=0, ymax=5,
    axis line style={draw=axgray, line width=0.8bp},
    every tick/.style={draw=axgray, line width=0.8bp},
    tick align=inside, major tick length=5bp,
    xtick={-5,...,5}, ytick={0,0.5,...,5},
    xticklabels={−5,,,,,0,,,,,5},
    yticklabels={0,,,,,,,,,,5},
    ticklabel style={font=\fontsize{21bp}{21bp}\selectfont, text=black},
    xticklabel style={yshift=-5bp},
    yticklabel style={xshift=-8bp},
    point meta min=0,
  },
  vec/.style n args={3}{
    draw=mblue, line width=#1, point meta=\thisrow{L},
    quiver={u={\thisrow{L}*cos(\thisrow{a})}, v={\thisrow{L}*sin(\thisrow{a})},
      every arrow/.append style={-{Straight Barb[length=#2, width=#3,
        scale length={max(0.07,\pgfplotspointmetatransformed/1000)},
        scale width={max(0.07,\pgfplotspointmetatransformed/1000)}]}}},
  },
}

\begin{document}
\begin{tikzpicture}[font=\fontsize{21bp}{24bp}\selectfont]
\useasboundingbox (0,0) rectangle (969bp,832bp);

% ---------- (a) ----------
\begin{axis}[panel, at={(76.7bp,544.3bp)}, width=399.3bp, height=217.7bp, point meta max=0.8]
\addplot[vec={1.15bp}{11bp}{7.5bp}] table[x=x,y=y] {\dataA};
\fill[gray!35] plot[variable=\t, domain=0:180, samples=60] ({1.04*cos(\t)},{1.08*sin(\t)}) -- cycle;
\draw[black, line width=1.2bp] plot[variable=\t, domain=0:180, samples=60] ({1.04*cos(\t)},{1.08*sin(\t)});
\end{axis}

% ---------- (b) ----------
\begin{axis}[panel, at={(545.7bp,539.7bp)}, width=416.6bp, height=218.3bp, point meta max=0.55]
\addplot[vec={1.15bp}{9bp}{6bp}] table[x=x,y=y] {\dataB};
\fill[white] plot[variable=\t, domain=90:180, samples=40] ({cos(\t)},{sin(\t)}) -- (0,0) -- cycle;
\fill[pattern=dots, pattern color=gray!35] plot[variable=\t, domain=90:180, samples=40] ({cos(\t)},{sin(\t)}) -- (0,0) -- cycle;
\fill[gray!12] plot[variable=\t, domain=0:90, samples=40] ({cos(\t)},{sin(\t)}) -- (0,0) -- cycle;
\fill[pattern=crosshatch dots, pattern color=gray!60] plot[variable=\t, domain=0:90, samples=40] ({cos(\t)},{sin(\t)}) -- (0,0) -- cycle;
\draw[gray!60, line width=0.5bp] (0,0) -- (0,1);
\draw[black, line width=1.2bp] plot[variable=\t, domain=0:180, samples=80] ({cos(\t)},{sin(\t)});
\node[font=\fontsize{24bp}{24bp}\selectfont\bfseries] at (-0.42,0.47) {−};
\node[font=\fontsize{24bp}{24bp}\selectfont] at (0.4,0.47) {+};
\end{axis}

% ---------- (c) ----------
\begin{axis}[panel, at={(68.3bp,25.3bp)}, width=889.7bp, height=436.7bp, point meta max=1]
\addplot[vec={1.5bp}{26bp}{17bp}] table[x=x,y=y] {\dataC};
\fill[white] plot[variable=\t, domain=90:180, samples=40] ({cos(\t)},{sin(\t)}) -- (0,0) -- cycle;
\fill[black!50] plot[variable=\t, domain=0:90, samples=40] ({cos(\t)},{sin(\t)}) -- (0,0) -- cycle;
\draw[black!55, line width=0.8bp] plot[variable=\t, domain=0:180, samples=80] ({cos(\t)},{sin(\t)});
\draw[black!55, line width=0.8bp] (0,0) -- (0,1);
\end{axis}

% ---------- texts ----------
\node[anchor=base west, inner sep=0] at (82bp,805bp) {(\textit{B}\textsubscript{1}, \textit{B}\textsubscript{2}) = (1, –5)};
\node[anchor=base west, inner sep=0] at (8bp,774bp) {(\textit{a})};
\node[anchor=base west, inner sep=0] at (92bp,779bp) {\textbf{\textit{u}}\textsuperscript{(0)}};
\node[anchor=base west, inner sep=0] at (484bp,775bp) {(\textit{b})};
\node[anchor=base west, inner sep=0] at (523bp,782bp) {\textbf{\textit{u}}\textsuperscript{(1)}};
\node[anchor=base west, inner sep=0] at (22bp,482bp) {(\textit{c})};
\node[anchor=base west, inner sep=0] at (98bp,484bp) {\textbf{\textit{u}}\textsuperscript{(0)} + \textbf{\textit{u}}\textsuperscript{(1)}};
\end{tikzpicture}
\end{document}
